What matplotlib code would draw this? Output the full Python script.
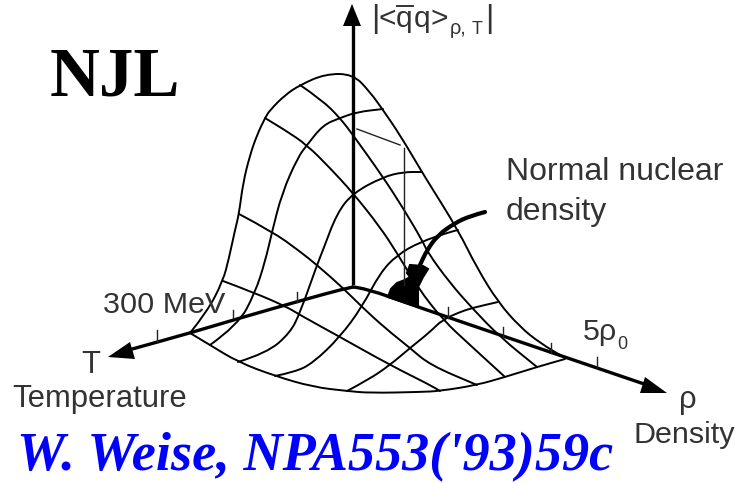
import matplotlib
matplotlib.use("Agg")
import matplotlib.pyplot as plt
from matplotlib.path import Path
from matplotlib.patches import PathPatch

# Curves, in image pixels (x, y)
outline_top = [(190, 333), (207, 312), (223, 281), (229, 258), (235, 230), (239, 214), (243, 183), (250, 155),
               (257, 135), (265, 118), (270, 110), (285, 95), (300, 85), (325, 74), (353, 74), (370, 92),
               (383, 110), (400, 135), (422, 172), (430, 185), (458, 230), (477, 268), (498, 302), (520, 327),
               (540, 343), (565, 358)]
outline_bottom = [(190, 333), (210, 345), (238, 362), (275, 376), (313, 387), (347, 391), (370, 393), (420, 392),
                  (440, 391), (477, 385), (505, 377), (537, 367), (565, 359)]
t_lines = [
    [(300, 85), (322, 100), (340, 118), (353, 135), (383, 177), (403, 208), (422, 240), (428, 253), (450, 283),
     (472, 308), (500, 337), (537, 367)],
    [(265, 118), (285, 130), (307, 145), (330, 168), (353, 193), (380, 227), (397, 253), (418, 288), (443, 320),
     (470, 345), (505, 377)],
    [(239, 214), (273, 232), (298, 250), (317, 265), (343, 288), (362, 307), (385, 328), (410, 348), (430, 365),
     (477, 385)],
    [(223, 281), (255, 293), (287, 307), (300, 315), (340, 337), (390, 365), (430, 385), (440, 391)],
]
rho_lines = [
    [(347, 391), (368, 380), (390, 365), (410, 348), (430, 332), (442, 320), (460, 312), (472, 308), (498, 302)],
    [(275, 376), (295, 372), (313, 363), (340, 337), (362, 307), (380, 273), (397, 255), (420, 242), (450, 232),
     (458, 230)],
    [(238, 362), (267, 353), (290, 333), (300, 313), (317, 265), (323, 250), (337, 213), (353, 193), (383, 177),
     (403, 172), (422, 172)],
    [(210, 345), (238, 325), (255, 293), (265, 262), (272, 232), (282, 193), (298, 157), (307, 145),
     (323, 125), (340, 118), (357, 112), (383, 109)],
]
thin_marks = [[(357, 129), (400, 145)], [(404, 148), (404, 285)]]
t_axis = [(353, 287), (343, 289), (303, 300), (240, 318), (190, 333), (125, 351)]
rho_axis = [(353, 287), (365, 288), (418, 307), (500, 335), (650, 386)]
t_ticks = [[(157, 330), (157, 342)], [(233, 310), (233, 318)], [(297, 292), (297, 302)]]
rho_ticks = [[(448, 307), (448, 318)], [(503, 327), (503, 338)], [(551, 343), (551, 353)], [(597, 357), (597, 368)]]
note_arrow = [(485, 212), (470, 216), (455, 223), (438, 235), (427, 250), (420, 265)]
blob = [(410, 265), (423, 266), (428, 269), (423, 277), (418, 287), (418, 307), (388, 297), (391, 289),
        (397, 283), (405, 280), (410, 277), (407, 273)]
head_up = [(352, 4), (343, 26), (361, 26)]
head_t = [(108, 357), (130, 342), (135, 359)]
head_rho = [(667, 393), (645, 377), (640, 393)]


def xs(pts):
    return [p[0] for p in pts]


def ys(pts):
    return [p[1] for p in pts]


def curve(pts, lw=1.4, color="black", cap="round"):
    # quadratic pieces between midpoints so the hand drawn lines stay round
    verts = [pts[0]]
    codes = [Path.MOVETO]
    for i in range(1, len(pts) - 1):
        mid = ((pts[i][0] + pts[i + 1][0]) / 2, (pts[i][1] + pts[i + 1][1]) / 2)
        verts += [pts[i], mid]
        codes += [Path.CURVE3, Path.CURVE3]
    verts.append(pts[-1])
    codes.append(Path.LINETO)
    ax.add_patch(PathPatch(Path(verts, codes), fill=False, lw=lw, edgecolor=color, capstyle=cap))


fig = plt.figure(figsize=(7.39, 4.83), dpi=100)
ax = fig.add_axes([0, 0, 1, 1])
ax.set_xlim(0, 739)
ax.set_ylim(483, 0)
ax.axis("off")

# surface
for line in [outline_top, outline_bottom] + t_lines + rho_lines:
    curve(line)
for line in thin_marks + t_ticks + rho_ticks:
    ax.plot(xs(line), ys(line), color="#222222", lw=1.0)

# axes
ax.plot([353, 353], [24, 283], color="black", lw=2.4)
curve(t_axis, lw=2.4)
curve(rho_axis, lw=2.4)
for head in [head_up, head_t, head_rho]:
    ax.fill(xs(head), ys(head), color="black", lw=0)

# normal density pointer
curve(note_arrow, lw=3)
ax.fill(xs(blob), ys(blob), facecolor="black", edgecolor="black", lw=1.5)


def label(x, y, s, px=31, color="#333333", **kw):
    kw.setdefault("family", "Liberation Sans")
    ax.text(x, y, s, fontsize=px * 0.72, color=color, ha="left", va="baseline", **kw)


label(50, 95, "NJL", px=69, color="black", family="Liberation Serif", weight="bold")
label(17, 470, "W. Weise, NPA553('93)59c", px=54.2, color="#0000ff", family="Liberation Serif",
      weight="bold", style="italic")
label(103, 313, "300 MeV", px=30.5)
label(81, 373, "T")
label(12, 407, "Temperature")
label(506, 180, "Normal nuclear", px=32)
label(506, 220, "density", px=32)
label(583, 340, "5ρ", px=30.5)
label(617, 349, "0", px=18)
label(679, 408, "ρ")
label(634, 443, "Density", px=30.5)
label(371, 27, "|", px=32)
label(379, 27, "<", px=30)
label(396, 27, "q", px=30)
label(414, 27, "q", px=30)
label(431, 27, ">", px=30)
label(450, 34, "ρ,", px=20)
label(472, 34, "T", px=18)
label(485, 27, "|", px=32)
ax.plot([397, 413], [6, 6], color="#333333", lw=1.4)

fig.savefig("out.png", dpi=100)
